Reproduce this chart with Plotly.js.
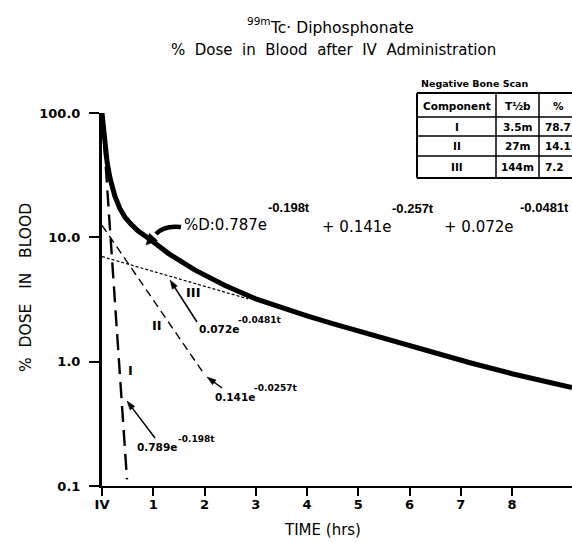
<!DOCTYPE html>
<html>
<head>
<meta charset="utf-8">
<script src="https://cdn.plot.ly/plotly-3.0.1.min.js"></script>
<style>html,body{margin:0;padding:0;background:#fff;}#chart{width:572px;height:543px;}</style>
</head>
<body>
<div id="chart"></div>
<script>
// ---- data (time in hours, % dose) ----
const hours      = [0, 0.01, 0.02, 0.04, 0.07, 0.1, 0.16, 0.25, 0.35, 0.45, 0.55, 0.7, 0.94, 1.3, 1.8, 2.4, 3, 3.5, 4, 4.5, 5, 6, 7.18, 8, 9.17];
const totalDose  = [100, 90, 80, 62, 48, 40, 29.5, 21.5, 17, 14.5, 13, 11.3, 9.6, 7.4, 5.5, 4.1, 3.2, 2.72, 2.34, 2.02, 1.76, 1.35, 0.98, 0.8, 0.62];
const compIHours   = [0.01, 0.488];
const compIDose    = [90, 0.113];
const compIIHours  = [0, 1.97];
const compIIDose   = [12.5, 0.82];
const compIIIHours = [0, 2.85];
const compIIIDose  = [7.0, 3.2];
const xTickVals  = [0, 1, 2, 3, 4, 5, 6, 7, 8];
const xTickText  = ['IV', '1', '2', '3', '4', '5', '6', '7', '8'];
const yTickVals  = [0.1, 1, 10, 100];
const yTickText  = ['0.1', '1.0', '10.0', '100.0'];
const tableHeader = ['Component', 'T\u00bdb', '%'];
const tableComp   = ['I', 'II', 'III'];
const tableHalf   = ['3.5m', '27m', '144m'];
const tablePct    = ['78.7', '14.1', '7.2'];

// ---- layout helpers (pixel -> paper) ----
const W = 572, H = 543, L = 102, R = 572, T = 113, B = 486;
const px = x => (x - L) / (R - L);
const py = y => (B - y) / (B - T);
const FONT = 'DejaVu Sans';
const BOLD = 'DejaVu Sans';
const LIB = 'Liberation Sans';

const traces = [
  {x: hours, y: totalDose, mode: 'lines', line: {color: '#000', width: 5}, hoverinfo: 'skip'},
  {x: compIHours, y: compIDose, mode: 'lines', line: {color: '#000', width: 2.4, dash: '16px,8px'}, hoverinfo: 'skip'},
  {x: compIIHours, y: compIIDose, mode: 'lines', line: {color: '#000', width: 1.4, dash: '8px,5px'}, hoverinfo: 'skip'},
  {x: compIIIHours, y: compIIIDose, mode: 'lines', line: {color: '#000', width: 1.2, dash: '3px,2px'}, hoverinfo: 'skip'}
];

const ann = [];
const shapes = [];
const f = (fam, s, bold) => ({family: fam, size: s, color: '#000', weight: bold ? 'bold' : 'normal'});
function txt(x, y, text, font, opts) {
  ann.push(Object.assign({xref: 'paper', yref: 'paper', x: px(x), y: py(y), text: text, showarrow: false,
    xanchor: 'left', yanchor: 'middle', font: font}, opts || {}));
}
function head(tipX, tipY, fromX, fromY, hl, hw) {
  const dx = tipX - fromX, dy = tipY - fromY, len = Math.hypot(dx, dy), ux = dx / len, uy = dy / len;
  const bx = tipX - ux * hl, by = tipY - uy * hl, nx = -uy, ny = ux;
  shapes.push({type: 'path', xref: 'paper', yref: 'paper',
    path: `M${px(tipX)},${py(tipY)} L${px(bx + nx * hw / 2)},${py(by + ny * hw / 2)} L${px(bx - nx * hw / 2)},${py(by - ny * hw / 2)} Z`,
    fillcolor: '#000', line: {color: '#000', width: 0.5}});
  return [bx + ux, by + uy];
}
function arrow(tipX, tipY, tailX, tailY, w, hl, hw) {
  const b = head(tipX, tipY, tailX, tailY, hl, hw);
  shapes.push({type: 'line', xref: 'paper', yref: 'paper', x0: px(tailX), y0: py(tailY), x1: px(b[0]), y1: py(b[1]),
    line: {color: '#000', width: w}});
}

// title pieces: isotope mass number and second line
txt(273, 21, '99m', f(FONT, 10.5), {xanchor: 'right'});
txt(333, 50, '%  Dose  in  Blood  after  IV  Administration', f(FONT, 15), {xanchor: 'center'});

// axis titles (placed as text to match the reference position)
txt(26, 288, '%  DOSE   IN   BLOOD', f(FONT, 15.5), {xanchor: 'center', textangle: -90});
txt(322, 530, 'TIME (hrs)', f(FONT, 15), {xanchor: 'center'});

// big equation
txt(182, 225, '%D:0.787e', f(FONT, 15));
txt(266, 207, '-0.198t', f(LIB, 13, true));
txt(320, 227, '+ 0.141e', f(FONT, 15));
txt(390, 208, '-0.257t', f(LIB, 13, true));
txt(442, 227, '+ 0.072e', f(FONT, 15));
txt(518, 207, '-0.0481t', f(LIB, 13, true));
// thick curved arrow towards the total curve
shapes.push({type: 'path', xref: 'paper', yref: 'paper',
  path: `M${px(181)},${py(227)} Q${px(164)},${py(225)} ${px(156)},${py(234)}`,
  line: {color: '#000', width: 4.5}, fillcolor: 'rgba(0,0,0,0)'});
head(146, 245, 157, 233, 11, 11);

// component labels
txt(130, 370, 'I', f(BOLD, 13, true), {xanchor: 'center'});
txt(157, 325, 'II', f(BOLD, 13, true), {xanchor: 'center'});
txt(193, 292, 'III', f(BOLD, 13, true), {xanchor: 'center'});

txt(135, 447, '0.789e', f(BOLD, 10.5, true));
txt(176, 439, '-0.198t', f(BOLD, 9, true));
arrow(127, 401, 155, 438, 1.5, 9, 6);

txt(213, 397, '0.141e', f(BOLD, 10.5, true));
txt(252, 388, '-0.0257t', f(BOLD, 9, true));
arrow(207, 377, 222, 388, 1.5, 9, 6);

txt(197, 329, '0.072e', f(BOLD, 10.5, true));
txt(236, 320, '-0.0481t', f(BOLD, 9, true));
arrow(170, 280, 197, 322, 1.5, 9, 6);

// table
const tl = 417, tc1 = 496, tc2 = 539, tr = 600;
const rowY = [93, 117, 136, 156, 178];
function hline(y, x0, x1, w) { shapes.push({type: 'line', xref: 'paper', yref: 'paper', x0: px(x0), x1: px(x1), y0: py(y), y1: py(y), line: {color: '#000', width: w}}); }
function vline(x, y0, y1, w) { shapes.push({type: 'line', xref: 'paper', yref: 'paper', x0: px(x), x1: px(x), y0: py(y0), y1: py(y1), line: {color: '#000', width: w}}); }
rowY.forEach((y, i) => hline(y, tl, tr, (i === 0 || i === rowY.length - 1) ? 2 : 1.5));
vline(tl, rowY[0], rowY[4], 2);
vline(tc1, rowY[0], rowY[4], 1.5);
vline(tc2, rowY[0], rowY[4], 1.5);
txt(475, 84, 'Negative Bone Scan', f(BOLD, 9.5, true), {xanchor: 'center'});
const colC = [(tl + tc1) / 2, (tc1 + tc2) / 2, 558];
tableHeader.forEach((h, j) => txt(colC[j], (rowY[0] + rowY[1]) / 2 + 1, h, f(BOLD, 10.5, true), {xanchor: 'center'}));
for (let i = 0; i < 3; i++) {
  const yc = (rowY[i + 1] + rowY[i + 2]) / 2;
  txt(colC[0], yc, tableComp[i], f(BOLD, 10.5, true), {xanchor: 'center'});
  txt(colC[1], yc, tableHalf[i], f(BOLD, 10.5, true), {xanchor: 'center'});
  txt(543, yc, tablePct[i], f(BOLD, 10.5, true));
}

const layout = {
  width: W, height: H,
  margin: {l: L, r: W - R, t: T, b: H - B, pad: 0},
  paper_bgcolor: '#fff', plot_bgcolor: '#fff',
  showlegend: false,
  title: {text: 'Tc\u00b7 Diphosphonate', x: 271 / W, xanchor: 'left', y: 1 - 28 / H, yanchor: 'middle',
          font: f(FONT, 15.5)},
  xaxis: {range: [0, 9.17], tickvals: xTickVals, ticktext: xTickText, ticks: 'outside', ticklen: 8, tickwidth: 2, tickcolor: '#000',
          showline: true, linewidth: 2, linecolor: '#000', showgrid: false, zeroline: false, ticklabelstandoff: -3,
          tickfont: f(BOLD, 13, true)},
  yaxis: {type: 'log', range: [-1, 2], tickvals: yTickVals, ticktext: yTickText, ticks: 'outside', ticklen: 10, tickwidth: 2, tickcolor: '#000',
          showline: true, linewidth: 3, linecolor: '#000', showgrid: false, zeroline: false, ticklabelstandoff: 6,
          tickfont: f(BOLD, 13, true)},
  annotations: ann,
  shapes: shapes
};

Plotly.newPlot('chart', traces, layout, {displayModeBar: false, staticPlot: true});
</script>
</body>
</html>
